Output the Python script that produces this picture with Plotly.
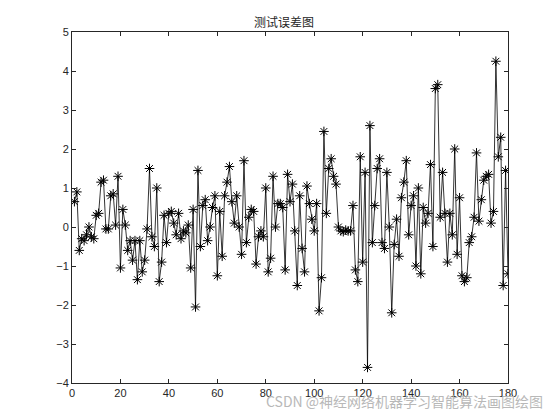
import plotly.graph_objects as go

part1 = [0.65, 0.9, -0.6, -0.3, -0.35, -0.2, 0.0, -0.25, -0.3, 0.3, 0.35, 1.15, 1.2, -0.05, -0.05,
         0.8, 0.85, 0.05, 1.3, -1.05, 0.45, 0.05, -0.6, -0.35, -0.85, -0.35, -1.35, -0.35, -1.15, -0.85,
         -0.05, 1.5, -0.25, -0.5, 1.0, -1.4, -0.9, 0.3, -0.4, 0.35, 0.4, 0.1, -0.2, 0.35, -0.3,
         -0.1, -0.15, 0.05, -1.05, 0.45, -2.05, 1.45, -0.5, 0.55]
part2 = [0.7, -0.35, 0.0, 0.5, 0.8, -1.25, 0.4, -0.75, 0.8, 1.15, 1.55, 0.65, 0.1, 0.8, 0.0,
         -0.7, 1.7, -0.4, 0.25, 0.45, 0.4, -0.95, -0.25, -0.1, -0.25, 1.0, -1.15, -0.8, 1.3, 0.0,
         0.6, 0.6, 0.5, -1.1, 1.35, 0.65, 1.1, -0.1, -1.5, 0.8, -0.55, -1.15, 1.05, 0.6, 0.2,
         -0.1, 0.6, -2.15, -1.3, 2.45, 0.35, 1.5, 1.75, 1.3, 1.1, 0.0]
part3 = [-0.1, -0.12, -0.08, -0.1, -0.1]
part4 = [0.55, -1.1, -1.4, 1.8, -0.9, 1.4, -3.6, 2.6, -0.4, 0.55, 1.5, 1.75, -0.4, -0.55, 1.4,
         0.0, -2.2, -0.45, 0.2, -0.75, 0.75, 1.15, 1.7, -0.2, 0.55, 0.8, -1.0, 1.0, -1.2, 0.5,
         0.1, 0.35, 1.6, -0.5, 3.55, 3.65, 0.25, 1.4, 0.35, -0.9, 0.35, -0.2, 2.0, -0.7, 0.75,
         -1.25, -1.4, -1.3, -0.4, -0.25, 0.25, 1.9, 0.15, 0.7, 1.2, 1.3, 1.35, 0.1, 0.4, 4.25,
         1.8, 2.3, -1.5, 1.45, -1.2]
err = part1 + part2 + part3 + part4
idx = list(range(1, len(err) + 1))

fig = go.Figure(go.Scatter(
    x=idx, y=err, mode="lines+markers",
    line=dict(color="black", width=0.8),
    marker=dict(symbol="asterisk-open", size=8, color="black", line=dict(color="black", width=1)),
))
axis = dict(showgrid=False, zeroline=False, showline=True, mirror="ticks", linecolor="#262626",
            linewidth=1, ticks="inside", ticklen=4, tickcolor="#262626",
            tickfont=dict(family="Liberation Sans, Arial", size=11, color="#262626"))
fig.update_layout(
    width=552, height=412, paper_bgcolor="white", plot_bgcolor="white", showlegend=False,
    margin=dict(l=64, r=52, t=24, b=37),
    title=dict(text="测试误差图", x=0.5, xanchor="center", y=0.975,
               font=dict(family="Noto Sans CJK SC", size=12, color="#262626")),
    xaxis=dict(range=[0, 180], tickvals=list(range(0, 181, 20)), **axis),
    yaxis=dict(range=[-4, 5], tickvals=list(range(-4, 6)), **axis),
    annotations=[dict(text="CSDN @神经网络机器学习智能算法画图绘图", xref="paper", yref="paper",
                      x=1.085, y=-0.05, xanchor="right", yanchor="middle", showarrow=False,
                      font=dict(family="Noto Sans CJK SC", size=14, color="#b8b8b8"))],
)
fig.write_html("out.html")
